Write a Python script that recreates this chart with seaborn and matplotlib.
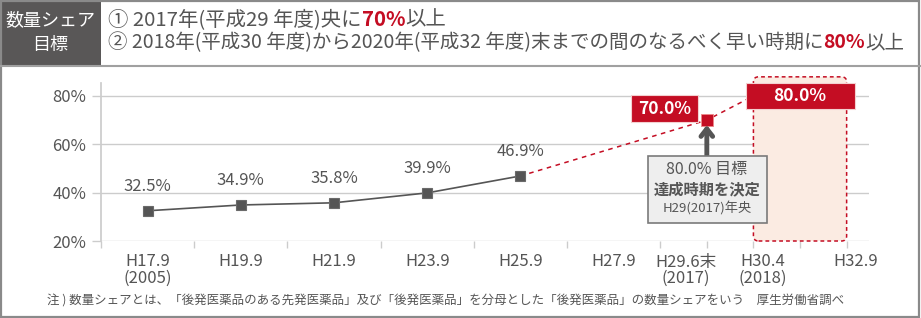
import numpy as np
import pandas as pd
import matplotlib
matplotlib.use("Agg")
import matplotlib.pyplot as plt
import seaborn as sns
from matplotlib.patches import Rectangle, FancyBboxPatch
from matplotlib.lines import Line2D

# ---------------- data ----------------
periods = ["H17.9", "H19.9", "H21.9", "H23.9", "H25.9"]
share = [32.5, 34.9, 35.8, 39.9, 46.9]
period_pos = [1, 3, 5, 7, 9]

target_pos = [9, 13, 14]
target_vals = [46.9, 70.0, 80.0]

tick_labels = ["H17.9\n(2005)", "H19.9", "H21.9", "H23.9", "H25.9", "H27.9",
               "H29.6末\n(2017)", "H30.4\n(2018)", "H32.9"]
tick_label_pos = [1, 3, 5, 7, 9, 11, 12.55, 14.2, 16.2]

y_ticks = [20, 40, 60, 80]

header_title = ["数量シェア", "目標"]
goal1 = [("① 2017年(平成29 年度)央に", "g"), ("70%", "r"), ("以上", "g")]
goal2 = [("② 2018年(平成30 年度)から2020年(平成32 年度)末までの間のなるべく早い時期に", "g"),
         ("80%", "r"), ("以上", "g")]
callout = ["80.0% 目標", "達成時期を決定", "H29(2017)年央"]
footnote = "注 ) 数量シェアとは、「後発医薬品のある先発医薬品」及び「後発医薬品」を分母とした「後発医薬品」の数量シェアをいう　厚生労働省調べ"

# ---------------- style ----------------
W, H = 921, 318
GRAY = "#555555"
RED = "#c40d23"
LIGHT = "#cccccc"

sns.set_theme(style="white")
plt.rcParams["font.family"] = ["Noto Sans CJK JP", "DejaVu Sans"]

fig = plt.figure(figsize=(W / 100, H / 100), dpi=100)
fig.patch.set_facecolor("white")

# axes placement (pixels -> figure fraction)
ax_left, ax_right, ax_top, ax_bottom = 101, 869, 76.6, 241
ax = fig.add_axes([ax_left / W, (H - ax_bottom) / H,
                   (ax_right - ax_left) / W, (ax_bottom - ax_top) / H])
ax.set_xlim(0, 16.48)
ax.set_ylim(20, 88)
ax.set_facecolor("none")

# target shaded zone (H30.4 - H32.9)
zone = FancyBboxPatch((14, 20), 2, 67.9,
                      boxstyle="round,pad=0,rounding_size=0.11",
                      mutation_aspect=46.6 / 2.418,
                      fc="#fbebe2", ec=RED, lw=1.1, ls=(0, (2.5, 2)),
                      zorder=1, clip_on=False)
ax.add_patch(zone)

# actual series
sns.lineplot(x=period_pos, y=share, ax=ax, color=GRAY, lw=1.2,
             marker="s", markersize=7.5, markeredgecolor="#6a6a6a",
             markeredgewidth=0.8, zorder=4)

# projected path
sns.lineplot(x=target_pos, y=target_vals, ax=ax, color=RED, lw=1.1,
             linestyle=(0, (3, 3)), zorder=3)
sns.scatterplot(x=[target_pos[1]], y=[target_vals[1]], ax=ax, color=RED,
                marker="s", s=80, edgecolor="#e88", linewidth=0.6, zorder=5)

# data labels
for xp, v in zip(period_pos, share):
    ax.annotate(f"{v:.1f}%", (xp, v), xytext=(0, 24), textcoords="offset pixels",
                ha="center", va="center", fontsize=12, color=GRAY, zorder=6)

# 70% label box
ax.add_patch(Rectangle((11.37, 69.2), 1.44, 11.2, fc=RED, ec="#f3d0d0",
                       lw=0.8, zorder=6))
ax.text(12.09, 74.8, f"{target_vals[1]:.1f}%", ha="center", va="center",
        fontsize=12.5, fontweight="bold", color="white", zorder=7)

# 80% label box
ax.add_patch(Rectangle((13.83, 74.6), 2.35, 10.8, fc=RED, ec="#f3d0d0",
                       lw=0.8, zorder=6, clip_on=False))
ax.text(15.0, 80.0, f"{target_vals[2]:.1f}%", ha="center", va="center",
        fontsize=12.5, fontweight="bold", color="white", zorder=7)

# callout box + arrow
ax.annotate("", xy=(13, 68.0), xytext=(13, 55.2),
            arrowprops=dict(arrowstyle="->,head_width=0.35,head_length=0.45",
                            lw=3.5, color=GRAY, shrinkA=0, shrinkB=0), zorder=6)
ax.add_patch(Rectangle((11.74, 27.4), 2.55, 27.8, fc="#eeeeee", ec="#7a7a7a",
                       lw=1.2, zorder=6))
ax.text(13.0, 49.4, callout[0], ha="center", va="center", fontsize=11.5,
        color=GRAY, zorder=7)
ax.text(13.0, 41.2, callout[1], ha="center", va="center", fontsize=11,
        fontweight="bold", color=GRAY, zorder=7)
ax.text(13.0, 33.6, callout[2], ha="center", va="center", fontsize=9.5,
        color=GRAY, zorder=7)

# axes cosmetics
ax.set_yticks(y_ticks)
ax.set_yticklabels([f"{t}%" for t in y_ticks])
ax.yaxis.grid(True, color=LIGHT, lw=1)
ax.xaxis.grid(False)
ax.set_xticks(tick_label_pos)
ax.set_xticklabels(tick_labels, linespacing=0.95)
ax.set_xticks(range(17), minor=True)
ax.tick_params(axis="x", which="major", length=0, pad=9, labelsize=12,
               labelcolor=GRAY)
ax.tick_params(axis="x", which="minor", length=5, width=1, color=LIGHT,
               direction="out", bottom=True)
ax.tick_params(axis="y", length=6.5, width=1, color=LIGHT, direction="out",
               pad=4, labelsize=12, labelcolor=GRAY, left=True)
for s in ["top", "right", "bottom"]:
    ax.spines[s].set_visible(False)
ax.spines["left"].set_color(LIGHT)
ax.spines["left"].set_bounds(20, 85.4)
ax.set_xlabel("")
ax.set_ylabel("")

# ---------------- header & frame ----------------
fig.add_artist(Rectangle((0, 1 - 66 / H), 101 / W, 66 / H,
                         transform=fig.transFigure, fc="#595757", ec="none"))
fig.add_artist(Line2D([0, 1], [1 - 66 / H] * 2, transform=fig.transFigure,
                      color="#a0a0a0", lw=1.5))
fig.add_artist(Rectangle((0.5 / W, 1.2 / H), (W - 3) / W, (H - 2.2) / H,
                         transform=fig.transFigure, fill=False, ec="#8a8a8a",
                         lw=1.6))
fig.text(50 / W, 1 - 20 / H, header_title[0], ha="center", va="center",
         color="white", fontsize=13)
fig.text(50 / W, 1 - 45 / H, header_title[1], ha="center", va="center",
         color="white", fontsize=13)

renderer = fig.canvas.get_renderer()


def rich_line(parts, x0, yc, target_w, base=12):
    def draw(size):
        x = x0
        arts = []
        for s, c in parts:
            t = fig.text(x / W, 1 - yc / H, s, ha="left", va="center",
                         fontsize=size, color=RED if c == "r" else GRAY,
                         fontweight="bold" if c == "r" else "normal")
            x += t.get_window_extent(renderer=renderer).width
            arts.append(t)
        return x - x0, arts
    w, arts = draw(base)
    for a in arts:
        a.remove()
    draw(base * target_w / w)


rich_line(goal1, 108, 20, 338)
rich_line(goal2, 108, 43, 794)

ft = fig.text(47 / W, 1 - 301 / H, footnote, ha="left", va="center",
              fontsize=9, color=GRAY)
fw = ft.get_window_extent(renderer=renderer).width
ft.set_fontsize(9 * 796 / fw)

fig.savefig("out.png", dpi=100, facecolor="white")
